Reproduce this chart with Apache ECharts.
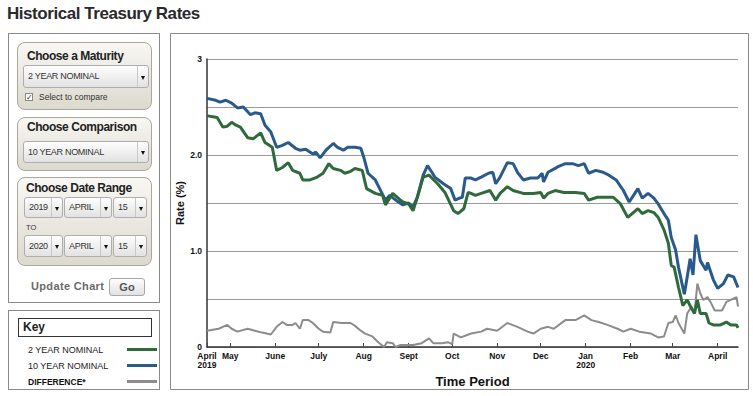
<!DOCTYPE html>
<html>
<head>
<meta charset="utf-8">
<script src="https://cdn.jsdelivr.net/npm/echarts@6/dist/echarts.min.js"></script>
<style>
html,body{margin:0;padding:0;background:#fff}
body{width:753px;height:396px;position:relative;overflow:hidden;font-family:'Liberation Sans',Arial,sans-serif}
#chart{position:absolute;left:0;top:0;width:753px;height:396px}
.abs{position:absolute;box-sizing:border-box}
.title{left:7px;top:4px;font-size:17px;font-weight:bold;color:#2a2a2a;letter-spacing:-0.45px;white-space:nowrap}
.box{border:1px solid #8a8a8a;background:#fff}
.panel{border:1px solid #a9a79e;border-radius:8px;background:linear-gradient(#f8f7f3,#dcd9ce)}
.ph{font-size:12px;font-weight:bold;color:#222;letter-spacing:-0.45px;white-space:nowrap;line-height:14px}
.sel{border:1px solid #aeaeae;border-radius:3px;background:linear-gradient(#fefefe,#e2e2e2);font-size:9px;color:#333;letter-spacing:-0.3px;white-space:nowrap;padding-left:4px}
.sel .arr{position:absolute;right:0;top:0;bottom:0;width:10px;border-left:1px solid #c8c8c8}
.sel .arr:after{content:"";position:absolute;left:3px;top:50%;margin-top:-1px;border-left:2px solid transparent;border-right:2px solid transparent;border-top:4px solid #111}
</style>
</head>
<body>
<div id="chart"></div>

<div class="abs title">Historical Treasury Rates</div>

<div class="abs box" style="left:8px;top:33px;width:152px;height:270px"></div>

<div class="abs panel" style="left:17px;top:42px;width:135px;height:68px"></div>
<div class="abs ph" style="left:27px;top:49px">Choose a Maturity</div>
<div class="abs sel" style="left:23px;top:65px;width:126px;height:23px;line-height:21px">2 YEAR NOMINAL<span class="arr"></span></div>
<div class="abs" style="left:25px;top:93px;width:8px;height:8px;border:1px solid #888;background:#fff;font-size:8px;line-height:7px;text-align:center;color:#222">✓</div>
<div class="abs" style="left:39px;top:92px;font-size:8.5px;color:#333;line-height:10px;white-space:nowrap">Select to compare</div>

<div class="abs panel" style="left:17px;top:117px;width:135px;height:54px"></div>
<div class="abs ph" style="left:27px;top:120px">Choose Comparison</div>
<div class="abs sel" style="left:23px;top:141px;width:126px;height:22px;line-height:20px">10 YEAR NOMINAL<span class="arr"></span></div>

<div class="abs panel" style="left:17px;top:177px;width:135px;height:89px"></div>
<div class="abs ph" style="left:26px;top:181px">Choose Date Range</div>
<div class="abs sel" style="left:24px;top:197px;width:39px;height:21px;line-height:19px">2019<span class="arr"></span></div>
<div class="abs sel" style="left:64px;top:197px;width:48px;height:21px;line-height:19px">APRIL<span class="arr"></span></div>
<div class="abs sel" style="left:113px;top:197px;width:34px;height:21px;line-height:19px">15<span class="arr"></span></div>
<div class="abs" style="left:26px;top:223px;font-size:7.5px;color:#333;line-height:9px">TO</div>
<div class="abs sel" style="left:24px;top:235px;width:39px;height:22px;line-height:20px">2020<span class="arr"></span></div>
<div class="abs sel" style="left:64px;top:235px;width:48px;height:22px;line-height:20px">APRIL<span class="arr"></span></div>
<div class="abs sel" style="left:113px;top:235px;width:34px;height:22px;line-height:20px">15<span class="arr"></span></div>

<div class="abs" style="left:31px;top:279px;font-size:11px;font-weight:bold;color:#6a6a6a;letter-spacing:0.35px;line-height:14px;white-space:nowrap">Update Chart</div>
<div class="abs" style="left:109px;top:278px;width:36px;height:18px;border:1px solid #a8a8a8;border-radius:3px;background:linear-gradient(#fdfdfd,#e2e2e2);font-size:11px;font-weight:bold;color:#555;text-align:center;line-height:16px">Go</div>

<div class="abs" style="left:8px;top:310px;width:152px;height:80px;border:1px solid #8a8a8a"></div>
<div class="abs" style="left:18px;top:318px;width:134px;height:19px;border:1px solid #333;font-size:12px;font-weight:bold;color:#222;line-height:17px;padding-left:4px">Key</div>

<script>
// Dates are given as day offsets from the start date (April 15, 2019)
const START_DATE = [2019, 3, 15];
const END_DAY = 366; // April 15, 2020

// 10 YEAR NOMINAL
const day10 = [0,6,9,13,17,21,25,30,33,37,40,44,48,52,56,61,64,68,73,75,78,82,87,90,94,97,102,106,108,111,116,119,123,126,131,135,139,142,145,149,152,155,157,163,168,171,174,176,178,182,185,189,194,197,199,202,207,211,214,218,223,228,231,232,235,240,242,247,252,256,260,263,268,273,277,282,287,291,294,297,300,304,308,311,315,318,320,323,325,329,331,333,335,337,340,344,345,349,352,356,359,363,366];
const rate10 = [2.59,2.57,2.55,2.57,2.54,2.49,2.50,2.42,2.44,2.43,2.31,2.24,2.08,2.10,2.13,2.07,2.05,2.06,2.01,2.03,1.97,2.05,2.12,2.08,2.05,2.08,2.08,2.07,1.98,1.81,1.74,1.65,1.53,1.58,1.52,1.48,1.50,1.46,1.56,1.79,1.89,1.82,1.77,1.70,1.65,1.53,1.55,1.56,1.76,1.76,1.74,1.77,1.81,1.82,1.70,1.77,1.92,1.91,1.82,1.74,1.76,1.76,1.81,1.72,1.82,1.86,1.88,1.91,1.91,1.89,1.91,1.81,1.84,1.82,1.79,1.74,1.63,1.51,1.58,1.65,1.55,1.60,1.55,1.49,1.39,1.32,1.14,1.01,0.83,0.55,0.73,0.92,0.75,1.17,0.90,0.80,0.88,0.70,0.61,0.66,0.75,0.73,0.62];

// 2 YEAR NOMINAL
const day2 = [0,3,7,11,14,17,20,23,28,32,37,40,45,48,52,56,59,64,66,71,76,80,84,87,92,95,99,102,107,110,116,121,123,128,135,139,142,145,149,153,159,164,170,173,177,180,182,185,189,195,199,202,207,211,218,225,230,232,235,240,246,254,260,263,269,276,280,285,290,293,297,300,304,308,311,315,318,320,322,325,328,331,333,336,338,340,344,346,349,354,358,361,365,366];
const rate2 = [2.41,2.40,2.39,2.29,2.30,2.34,2.31,2.29,2.18,2.17,2.23,2.13,2.08,1.84,1.87,1.92,1.84,1.81,1.74,1.74,1.77,1.81,1.91,1.86,1.84,1.81,1.83,1.86,1.84,1.65,1.60,1.58,1.48,1.60,1.51,1.49,1.42,1.56,1.77,1.79,1.70,1.61,1.42,1.39,1.44,1.61,1.60,1.58,1.60,1.63,1.53,1.60,1.67,1.63,1.60,1.60,1.61,1.55,1.60,1.63,1.61,1.61,1.60,1.53,1.56,1.56,1.56,1.49,1.35,1.39,1.44,1.39,1.42,1.40,1.35,1.22,1.08,0.85,0.83,0.62,0.43,0.49,0.43,0.35,0.49,0.35,0.35,0.25,0.23,0.23,0.26,0.23,0.23,0.20];

// DIFFERENCE*
const dayDiff = [0,4,8,14,17,21,28,33,38,44,48,52,55,59,61,64,66,70,73,77,80,85,87,93,99,102,106,109,114,118,122,124,128,130,133,142,148,153,156,162,166,169,170,175,182,189,193,200,207,214,221,225,230,235,239,247,254,260,265,270,276,283,287,292,298,306,311,315,318,321,323,325,329,331,334,336,338,340,342,345,347,350,355,358,361,365,366];
const rateDiff = [0.17,0.18,0.19,0.23,0.19,0.16,0.19,0.17,0.15,0.13,0.21,0.26,0.23,0.23,0.25,0.19,0.28,0.28,0.25,0.19,0.16,0.15,0.26,0.25,0.25,0.22,0.17,0.14,0.11,0.05,0.00,0.05,0.04,0.00,0.02,0.02,0.04,0.09,0.04,0.04,0.05,0.03,0.14,0.10,0.14,0.16,0.19,0.17,0.25,0.21,0.16,0.14,0.19,0.21,0.19,0.28,0.28,0.33,0.28,0.26,0.23,0.19,0.16,0.19,0.16,0.14,0.10,0.11,0.25,0.26,0.33,0.25,0.14,0.35,0.42,0.35,0.66,0.56,0.49,0.52,0.47,0.38,0.38,0.47,0.49,0.52,0.42];

// X axis ticks (year, month index, day) and their labels
const tickDates = [[2019,3,15],[2019,4,1],[2019,5,1],[2019,6,1],[2019,7,1],[2019,8,1],[2019,9,1],[2019,10,1],[2019,11,1],[2020,0,1],[2020,1,1],[2020,2,1],[2020,3,1]];
const tickLabels = ['April\n2019','May','June','July','Aug','Sept','Oct','Nov','Dec','Jan\n2020','Feb','Mar','April'];

// Y axis labels
const yTickLabels = {0:'0', 1:'1.0', 2:'2.0', 3:'3'};

const seriesNames = ['2 YEAR NOMINAL', '10 YEAR NOMINAL', 'DIFFERENCE*'];

const DAY_MS = 86400000;
const startTs = Date.UTC(START_DATE[0], START_DATE[1], START_DATE[2]);
const toTs = d => startTs + d * DAY_MS;
const pairs = (days, vals) => days.map((d, i) => [toTs(d), vals[i]]);
const tickTs = tickDates.map(t => Date.UTC(t[0], t[1], t[2]));
const labelMap = {};
tickTs.forEach((t, i) => { labelMap[t] = tickLabels[i]; });

const FONT = 'Liberation Sans, Arial, sans-serif';
const chart = echarts.init(document.getElementById('chart'), null, {renderer: 'svg'});
chart.setOption({
  animation: false,
  graphic: [{
    type: 'rect', silent: true,
    shape: {x: 170.5, y: 33.5, width: 578, height: 356},
    style: {fill: 'none', stroke: '#8a8a8a', lineWidth: 1}
  }],
  legend: {
    data: seriesNames,
    orient: 'vertical',
    left: 23, top: 340,
    align: 'right',
    icon: 'rect',
    itemWidth: 30, itemHeight: 3,
    itemGap: 7,
    selectedMode: false,
    formatter: n => n === 'DIFFERENCE*' ? '{b|' + n + '}' : '{n|' + n + '}',
    textStyle: {
      fontFamily: FONT,
      rich: {
        n: {width: 94, align: 'left', fontSize: 9, color: '#222', lineHeight: 11, fontFamily: FONT},
        b: {width: 94, align: 'left', fontSize: 8.5, color: '#111', fontWeight: 'bold', lineHeight: 11, fontFamily: FONT}
      }
    }
  },
  grid: {left: 207, right: 15, top: 59, bottom: 49},
  xAxis: {
    type: 'value',
    min: toTs(0), max: toTs(END_DAY),
    name: 'Time Period',
    nameLocation: 'middle',
    nameGap: 28,
    nameTextStyle: {fontSize: 13, fontWeight: 'bold', color: '#111', fontFamily: FONT},
    axisLine: {lineStyle: {color: '#333', width: 1.5}},
    axisTick: {show: true, inside: true, length: 4, customValues: tickTs, lineStyle: {color: '#444', width: 1}},
    axisLabel: {
      customValues: tickTs,
      formatter: v => labelMap[v] || '',
      fontSize: 8.5, fontWeight: 'bold', color: '#111', lineHeight: 9, margin: 4,
      fontFamily: FONT,
      hideOverlap: false
    },
    splitLine: {show: false}
  },
  yAxis: {
    type: 'value',
    min: 0, max: 3, interval: 0.5,
    name: 'Rate (%)',
    nameLocation: 'middle',
    nameGap: 22,
    nameMoveOverlap: false,
    nameRotate: 90,
    nameTextStyle: {fontSize: 11, fontWeight: 'bold', color: '#111', fontFamily: FONT},
    axisLine: {show: true, lineStyle: {color: '#333', width: 1.5}},
    axisTick: {show: false},
    axisLabel: {
      formatter: v => yTickLabels[v] || '',
      fontSize: 8.5, fontWeight: 'bold', color: '#111', margin: 5,
      fontFamily: FONT
    },
    splitLine: {show: true, lineStyle: {color: '#9a9a9a', width: 1}}
  },
  series: [
    {name: 'DIFFERENCE*', type: 'line', data: pairs(dayDiff, rateDiff), showSymbol: false, color: '#8c8c8c', lineStyle: {width: 2, color: '#8c8c8c'}, z: 2},
    {name: '10 YEAR NOMINAL', type: 'line', data: pairs(day10, rate10), showSymbol: false, color: '#2a5a8c', lineStyle: {width: 3, color: '#2a5a8c'}, z: 3},
    {name: '2 YEAR NOMINAL', type: 'line', data: pairs(day2, rate2), showSymbol: false, color: '#2f6a3b', lineStyle: {width: 3, color: '#2f6a3b'}, z: 4}
  ]
});
</script>
</body>
</html>
